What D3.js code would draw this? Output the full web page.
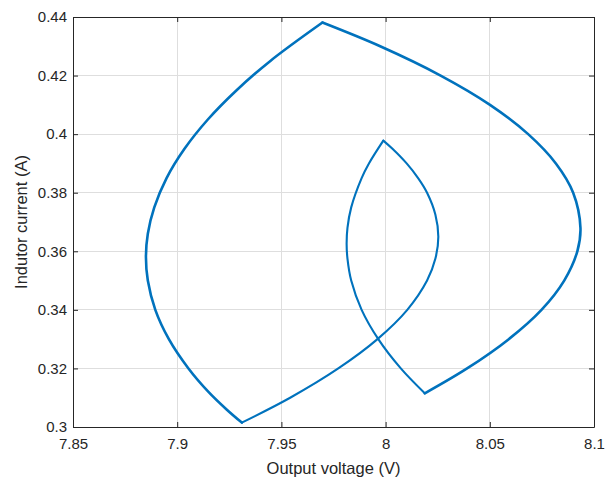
<!DOCTYPE html>
<meta charset="utf-8">
<style>
  body { margin: 0; background: #fff; }
  text { font-family: Arial, "Liberation Sans", sans-serif; fill: #262626; }
</style>

<div id="chart"></div>

<script src="https://cdn.jsdelivr.net/npm/d3@7"></script>
<script>

// axis ticks
var xTicks = [7.85, 7.9, 7.95, 8, 8.05, 8.1]
var xTickLabels = ["7.85", "7.9", "7.95", "8", "8.05", "8.1"]
var yTicks = [0.3, 0.32, 0.34, 0.36, 0.38, 0.4, 0.42, 0.44]
var yTickLabels = ["0.3", "0.32", "0.34", "0.36", "0.38", "0.4", "0.42", "0.44"]

// outer loop, current rising (bottom corner -> top corner)
var outerRiseV = [7.9310, 7.9237, 7.9150, 7.9054, 7.8960, 7.8895, 7.8859, 7.8850, 7.8859, 7.8890, 7.8949, 7.9035, 7.9147, 7.9285, 7.9447, 7.9697]
var outerRiseI = [0.3015, 0.3060, 0.3120, 0.3200, 0.3300, 0.3400, 0.3500, 0.3580, 0.3660, 0.3750, 0.3850, 0.3950, 0.4050, 0.4150, 0.4250, 0.4381]

// outer loop, current falling (top corner -> lower right corner)
var outerFallV = [7.9697, 7.9974, 8.0264, 8.0501, 8.0684, 8.0817, 8.0900, 8.0935, 8.0920, 8.0857, 8.0748, 8.0591, 8.0391, 8.0188]
var outerFallI = [0.4381, 0.4300, 0.4200, 0.4100, 0.4000, 0.3900, 0.3800, 0.3680, 0.3600, 0.3500, 0.3400, 0.3300, 0.3200, 0.3115]

// inner loop, current rising
var innerRiseV = [8.0188, 8.0073, 7.9965, 7.9885, 7.9835, 7.9817, 7.9813, 7.9817, 7.9835, 7.9885, 7.9920, 7.9989]
var innerRiseI = [0.3115, 0.3200, 0.3300, 0.3400, 0.3500, 0.3575, 0.3625, 0.3680, 0.3750, 0.3850, 0.3900, 0.3978]

// inner loop, current falling (back to the bottom corner)
var innerFallV = [7.9989, 8.0033, 8.0101, 8.0156, 8.0199, 8.0239, 8.0253, 8.0239, 8.0199, 8.0104, 7.9961, 7.9773, 7.9542, 7.9310]
var innerFallI = [0.3978, 0.3950, 0.3900, 0.3850, 0.3800, 0.3725, 0.3650, 0.3575, 0.3500, 0.3400, 0.3300, 0.3200, 0.3100, 0.3015]

var width = 606,
    height = 483,
    padL = 73,
    padR = 594,
    padT = 17,
    padB = 427

var svg = d3.select("#chart")
  .append("svg")
    .attr("width", width)
    .attr("height", height)

svg.append("rect")
  .attr("width", width)
  .attr("height", height)
  .attr("fill", "#fff")

var x = d3.scaleLinear().domain([7.85, 8.1]).range([padL, padR])
var y = d3.scaleLinear().domain([0.3, 0.44]).range([padB, padT])

// grid
var grid = svg.append("g").attr("shape-rendering", "crispEdges")
grid.selectAll(".gx")
  .data(xTicks.slice(1, -1))
  .enter().append("line")
    .attr("x1", d => x(d)).attr("x2", d => x(d))
    .attr("y1", padT).attr("y2", padB)
    .attr("stroke", "#dedede")
grid.selectAll(".gy")
  .data(yTicks.slice(1, -1))
  .enter().append("line")
    .attr("y1", d => y(d)).attr("y2", d => y(d))
    .attr("x1", padL).attr("x2", padR)
    .attr("stroke", "#dedede")

// curve
var line = d3.line()
  .x(d => x(d[0]))
  .y(d => y(d[1]))
  .curve(d3.curveCatmullRom.alpha(0.5))

var segments = [
  { v: outerRiseV, i: outerRiseI, w: 2.6 },
  { v: outerFallV, i: outerFallI, w: 2.6 },
  { v: innerRiseV, i: innerRiseI, w: 2.1 },
  { v: innerFallV, i: innerFallI, w: 2.1 }
]

svg.selectAll(".seg")
  .data(segments)
  .enter().append("path")
    .attr("d", s => line(s.v.map((v, k) => [v, s.i[k]])))
    .attr("fill", "none")
    .attr("stroke", "#0072bd")
    .attr("stroke-width", s => s.w)
    .attr("stroke-linejoin", "round")
    .attr("stroke-linecap", "round")

// axes
function styleAxis(g) {
  g.attr("font-size", 15).attr("font-family", null)
  g.selectAll("path, line").attr("stroke", "#262626")
  g.selectAll("text").attr("fill", "#262626")
}

svg.append("g")
  .attr("transform", "translate(0," + padB + ")")
  .call(d3.axisBottom(x).tickValues(xTicks).tickFormat((d, k) => xTickLabels[k])
    .tickSizeInner(-5).tickSizeOuter(0).tickPadding(11))
  .call(styleAxis)

svg.append("g")
  .attr("transform", "translate(" + padL + ",0)")
  .call(d3.axisLeft(y).tickValues(yTicks).tickFormat((d, k) => yTickLabels[k])
    .tickSizeInner(-5).tickSizeOuter(0).tickPadding(6))
  .call(styleAxis)

svg.append("g")
  .attr("transform", "translate(0," + padT + ")")
  .call(d3.axisTop(x).tickValues(xTicks).tickFormat("").tickSizeInner(-5).tickSizeOuter(0))
  .call(styleAxis)

svg.append("g")
  .attr("transform", "translate(" + padR + ",0)")
  .call(d3.axisRight(y).tickValues(yTicks).tickFormat("").tickSizeInner(-5).tickSizeOuter(0))
  .call(styleAxis)

// labels
svg.append("text")
  .attr("x", (padL + padR) / 2)
  .attr("y", 474)
  .attr("text-anchor", "middle")
  .attr("font-size", 16.5)
  .text("Output voltage (V)")

svg.append("text")
  .attr("transform", "translate(27," + (padT + padB) / 2 + ") rotate(-90)")
  .attr("text-anchor", "middle")
  .attr("font-size", 16.5)
  .text("Indutor current (A)")

</script>
